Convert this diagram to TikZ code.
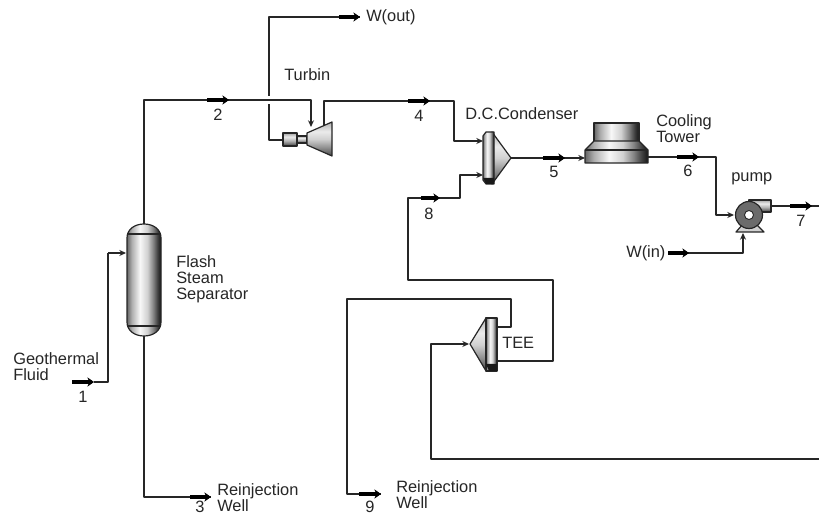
\documentclass[tikz,border=0pt]{standalone}
\usepackage{fontspec}
\setmainfont{Liberation Sans}
\usetikzlibrary{arrows.meta}
\pgfdeclarehorizontalshading{metalv}{100bp}{color(0bp)=(black!60); color(25bp)=(black!60); color(32bp)=(black!32); color(44bp)=(black!3); color(55bp)=(black!18); color(64bp)=(black!50); color(70bp)=(black!75); color(75bp)=(black!92); color(100bp)=(black!92)}
\pgfdeclarehorizontalshading{conev}{100bp}{color(0bp)=(black!72); color(25bp)=(black!72); color(37bp)=(black!45); color(50bp)=(black!18); color(61bp)=(black!8); color(75bp)=(black!30); color(100bp)=(black!30)}
\pgfdeclarehorizontalshading{discv}{100bp}{color(0bp)=(black!75); color(25bp)=(black!75); color(45bp)=(black!30); color(60bp)=(black!8); color(75bp)=(black!35); color(100bp)=(black!35)}
\tikzset{
  px/.style={x=0.75pt,y=-0.75pt},
  pipe/.style={draw=black!85,line width=0.95pt,line join=round},
  inlet/.style={pipe,-{Stealth[length=5pt,width=4.5pt]}},
  markbar/.style={draw=black,line width=2.4pt},
  marktip/.style={draw=black,line width=0.6pt,-{Stealth[length=5pt,width=7pt]}},
  equip/.style={draw=black!85,line width=0.9pt,line join=round},
  txt/.style={font=\fontsize{12.3}{14}\selectfont,text=black!85,inner sep=0pt,anchor=base west},
  num/.style={font=\fontsize{12.3}{14}\selectfont,text=black!85,inner sep=0pt},
}
\newcommand{\flowmark}[3]{%
  \draw[markbar] (#1,#3) -- (#2-3,#3);
  \draw[marktip] (#2-5,#3) -- (#2,#3);
}
\begin{document}
\begin{tikzpicture}[px]
\useasboundingbox (0,0) rectangle (819,516);
\fill[white] (0,0) rectangle (819,516);

% ---- equipment
\path[equip,shading=metalv] (127,238) .. controls (127,229) and (135,224) .. (144,224) .. controls (153,224) and (161,229) .. (161,238) -- (161,322) .. controls (161,331) and (153,336) .. (144,336) .. controls (135,336) and (127,331) .. (127,322) -- cycle;
\draw[equip] (127,234) -- (161,234) (127,326) -- (161,326);
\coordinate (sepTop) at (144,224);
\coordinate (sepBot) at (144,336);
\coordinate (sepIn) at (126,253);

% turbine
\path[equip,shading=discv,shading angle=90] (283,133) rectangle (297,146);
\path[equip,shading=discv,shading angle=90] (297,136) rectangle (307,143);
\path[equip,shading=conev,shading angle=90] (307,133) -- (332,122) -- (332,156) -- (307,145) -- cycle;
\coordinate (turbIn) at (311,127);
\coordinate (turbOut) at (324,125);
\coordinate (shaft) at (283,140);

% condenser
\path[equip,shading=conev,shading angle=90] (492,132) -- (511,158) -- (492,184) -- cycle;
\path[equip,shading=metalv] (483,136) -- (486,132) -- (494,132) -- (494,184) -- (486,184) -- (483,180) -- cycle;
\fill[black!90] (483,178) -- (494,178) -- (494,184) -- (486,184) -- cycle;
\coordinate (condA) at (483,141);
\coordinate (condB) at (483,175);
\coordinate (condOut) at (511,158);

% cooling tower
\path[equip,shading=metalv] (594,123) rectangle (639,143);
\path[equip,shading=metalv] (594,141) -- (639,141) -- (648,150) -- (648,163) -- (585,163) -- (585,150) -- cycle;
\draw[equip] (585,150) -- (648,150);
\coordinate (towerIn) at (585,158);
\coordinate (towerOut) at (648,157);

% pump
\path[equip,fill=black!18] (736,232) -- (743,224) -- (756,224) -- (764,232) -- cycle;
\path[equip,shading=discv,shading angle=90] (749,200) rectangle (771,212);
\filldraw[equip,fill=black!58] (749,215) circle (13.5);
\filldraw[equip,fill=white,line width=0.7pt] (749,215) circle (4.5);
\coordinate (pumpIn) at (734,215);
\coordinate (pumpW) at (743,233);
\coordinate (pumpOut) at (771,206);

% TEE
\path[equip,shading=conev,shading angle=90] (486,318) -- (470,344) -- (486,371) -- cycle;
\path[equip,shading=metalv] (486,318) -- (497,318) -- (497,371) -- (486,371) -- cycle;
\fill[black!90] (486,364) -- (497,364) -- (497,371) -- (489,371) -- cycle;
\coordinate (teeIn) at (469,344);
\coordinate (teeA) at (497,327);
\coordinate (teeB) at (497,361);

% ---- free ends
\coordinate (m1) at (94,382);
\coordinate (e3) at (211,497);
\coordinate (e9) at (381,494);
\coordinate (ewo) at (360,17);
\coordinate (e7) at (819,206);

% ---- pipes
\draw[pipe] (m1) -- (108,382) -- (108,253);
\draw[inlet] (108,253) -- (sepIn);
\draw[pipe] (sepBot) -- (144,497) -- (e3);
\draw[inlet] (sepTop) -- (144,100) -- (311,100) -- (turbIn);
\draw[pipe] (shaft) -- (269,140) -- (269,104);
\draw[pipe] (269,96) -- (269,17) -- (ewo);
\draw[inlet] (turbOut) -- (324,101) -- (454,101) -- (454,141) -- (condA);
\draw[inlet] (teeB) -- (553,361) -- (553,280) -- (408,280) -- (408,198) -- (460,198) -- (460,175) -- (condB);
\draw[inlet] (condOut) -- (towerIn);
\draw[inlet] (towerOut) -- (716,157) -- (716,215) -- (pumpIn);
\draw[pipe] (pumpOut) -- (e7);
\draw[inlet] (668,253) -- (743,253) -- (pumpW);
\draw[pipe] (teeA) -- (511,327) -- (511,299) -- (347,299) -- (347,494) -- (e9);
\draw[inlet] (819,459) -- (431,459) -- (431,344) -- (teeIn);

% ---- flow marks
\flowmark{72}{94}{382}
\flowmark{190}{211}{497}
\flowmark{359}{381}{494}
\flowmark{339}{360}{17}
\flowmark{207}{229}{100}
\flowmark{408}{430}{101}
\flowmark{421}{440}{198}
\flowmark{543}{565}{158}
\flowmark{677}{699}{157}
\flowmark{790}{812}{206}
\flowmark{668}{689}{253}

% ---- labels
\node[txt] (lGeo) at (13,365) {Geothermal};
\node[txt] (lFluid) at (13,381) {Fluid};
\node[num] (n1) at (83,397) {1};
\node[num] (n2) at (218,115) {2};
\node[num] (n3) at (200,507) {3};
\node[num] (n4) at (419,116) {4};
\node[num] (n5) at (554,172) {5};
\node[num] (n6) at (688,171) {6};
\node[num] (n7) at (801,221) {7};
\node[num] (n8) at (429,214) {8};
\node[num] (n9) at (370,507) {9};
\node[txt] (lFlash) at (176,268) {Flash};
\node[txt] (lSteam) at (176,284) {Steam};
\node[txt] (lSep) at (176,300) {Separator};
\node[txt] (lR3) at (217,496) {Reinjection};
\node[txt] (lW3) at (217,512) {Well};
\node[txt] (lR9) at (396,493) {Reinjection};
\node[txt] (lW9) at (396,509) {Well};
\node[txt] (lTurb) at (284,81) {Turbin};
\node[txt] (lWout) at (366,22) {W(out)};
\node[txt] (lDC) at (465,120) {D.C.Condenser};
\node[txt] (lCool) at (656,127) {Cooling};
\node[txt] (lTow) at (656,143) {Tower};
\node[txt] (lPump) at (731,182) {pump};
\node[txt] (lWin) at (626,258) {W(in)};
\node[txt] (lTee) at (502,349) {TEE};
\end{tikzpicture}
\end{document}
